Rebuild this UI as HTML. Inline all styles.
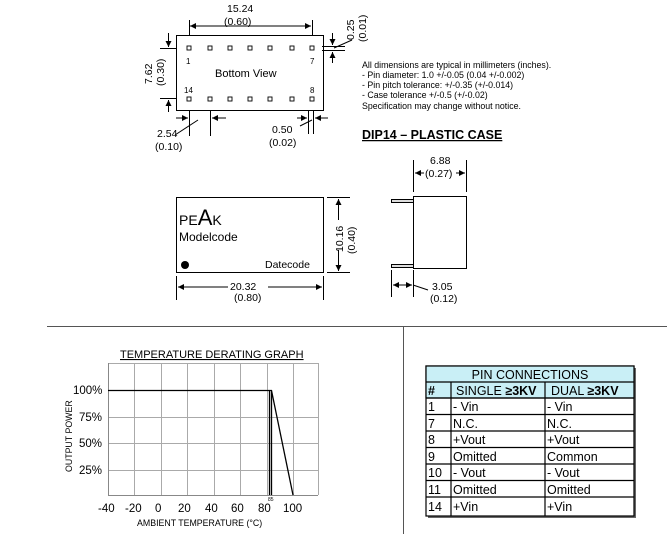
<!DOCTYPE html><html><head><style>body{margin:0;background:#fff}svg{display:block}text{font-family:"Liberation Sans",Arial,sans-serif;fill:#000}</style></head><body>
<svg width="667" height="534" viewBox="0 0 667 534" xmlns="http://www.w3.org/2000/svg">
<defs><marker id="a" viewBox="0 0 10 10" refX="10" refY="5" markerWidth="9" markerHeight="6" orient="auto-start-reverse"><path d="M0,0L10,5L0,10z" fill="#000"/></marker></defs>
<g stroke="#000" stroke-width="1" fill="none">
<rect x="176.5" y="35.5" width="147" height="75"/>
<g fill="#fff" stroke-width="0.9">
<rect x="187" y="46" width="4" height="4"/><rect x="208" y="46" width="4" height="4"/><rect x="228" y="46" width="4" height="4"/><rect x="248" y="46" width="4" height="4"/><rect x="268" y="46" width="4" height="4"/><rect x="290" y="46" width="4" height="4"/><rect x="310" y="46" width="4" height="4"/>
<rect x="187" y="97" width="4" height="4"/><rect x="208" y="97" width="4" height="4"/><rect x="228" y="97" width="4" height="4"/><rect x="248" y="97" width="4" height="4"/><rect x="268" y="97" width="4" height="4"/><rect x="290" y="97" width="4" height="4"/><rect x="310" y="97" width="4" height="4"/>
</g>
<path d="M189.5 20V35M312.5 20V35"/><path d="M190 26H311" marker-start="url(#a)" marker-end="url(#a)"/>
<path d="M160 48.5H176M160 98.5H176"/><path d="M168.5 33V47" marker-end="url(#a)"/><path d="M168.5 112V100" marker-end="url(#a)"/>
<path d="M322 46.5H345M322 50.5H345"/><path d="M332.5 33V45" marker-end="url(#a)"/><path d="M332.5 63V52" marker-end="url(#a)"/><path d="M334 48L352 40"/>
<path d="M189.5 110V136M210.5 110V136"/><path d="M176 118H188" marker-end="url(#a)"/><path d="M226 118H212" marker-end="url(#a)"/><path d="M175 135L198 120"/>
<path d="M308.5 110V134M313.5 110V134"/><path d="M297 118H307" marker-end="url(#a)"/><path d="M328 118H315" marker-end="url(#a)"/><path d="M300 126L312 120"/>
<rect x="176.5" y="197.5" width="147" height="75"/>
<path d="M327 197.5H350M327 272.5H350"/><path d="M338.5 220V199" marker-end="url(#a)"/><path d="M338.5 250V271" marker-end="url(#a)"/>
<path d="M176.5 276V300M323.5 276V300"/><path d="M228 287H178" marker-end="url(#a)"/><path d="M268 287H322" marker-end="url(#a)"/>
<rect x="413.5" y="196.5" width="53" height="72"/>
<rect x="391.5" y="199.5" width="22" height="3" fill="#ddd"/><rect x="391.5" y="264.5" width="22" height="3" fill="#ddd"/>
<path d="M413.5 160V192M466.5 160V192"/><path d="M424 173H415" marker-end="url(#a)"/><path d="M456 173H465" marker-end="url(#a)"/>
<path d="M391.5 270V297M413.5 270V297"/><path d="M405 285H393" marker-end="url(#a)"/><path d="M400 285H412" marker-end="url(#a)"/><path d="M413 285L428 290"/>
<path d="M47 326.5H667M403.5 326V534" stroke="#555"/>
<g stroke="#aaa"><path d="M134.5 363V495M161.5 363V495M187.5 363V495M214.5 363V495M240.5 363V495M267.5 363V495M293.5 363V495M318.5 363V495M108 363.5H318M108 417.5H318M108 443.5H318M108 470.5H318"/></g>
<path d="M108.5 363V495.5H318" stroke="#888"/>
<path d="M108 390.5H271.5L293 495M271.5 390V495M269.5 390V495" stroke-width="1.3"/>
</g>
<g font-size="10.5">
<text x="227" y="12">15.24</text><text x="224" y="25">(0.60)</text>
<text transform="translate(152,84) rotate(-90)">7.62</text><text transform="translate(164,86) rotate(-90)">(0.30)</text>
<text transform="translate(354,40) rotate(-90)">0.25</text><text transform="translate(366,42) rotate(-90)">(0.01)</text>
<text x="157" y="137">2.54</text><text x="155" y="150">(0.10)</text>
<text x="272" y="133">0.50</text><text x="269" y="146">(0.02)</text>
<text x="215" y="77" font-size="11">Bottom View</text>
</g>
<g font-size="8"><text x="186" y="64">1</text><text x="310" y="64">7</text><text x="184" y="93">14</text><text x="310" y="93">8</text></g>
<g font-size="8.8"><text x="362" y="68">All dimensions are typical in millimeters (inches).</text><text x="362" y="78">- Pin diameter: 1.0 +/-0.05 (0.04 +/-0.002)</text><text x="362" y="88">- Pin pitch tolerance: +/-0.35 (+/-0.014)</text><text x="362" y="98">- Case tolerance +/-0.5 (+/-0.02)</text><text x="362" y="109">Specification may change without notice.</text></g>
<text x="362" y="139" font-size="12.5" font-weight="bold" text-decoration="underline">DIP14 – PLASTIC CASE</text>
<text x="179" y="225" font-size="14">PE<tspan font-size="22">A</tspan>K</text>
<text x="179" y="241" font-size="12">Modelcode</text>
<circle cx="185" cy="265" r="4" fill="#000"/>
<text x="265" y="268" font-size="10.5">Datecode</text>
<rect x="333" y="221" width="10" height="28" fill="#fff"/>
<g font-size="10.5"><text transform="translate(343,252) rotate(-90)">10.16</text><text transform="translate(355,254) rotate(-90)">(0.40)</text>
<text x="230" y="290">20.32</text><text x="234" y="301">(0.80)</text>
<text x="430" y="164">6.88</text><text x="425" y="177">(0.27)</text>
<text x="432" y="290">3.05</text><text x="430" y="302">(0.12)</text></g>
<text x="120" y="358" font-size="11" text-decoration="underline">TEMPERATURE DERATING GRAPH</text>
<g font-size="11.5" fill="#333"><text x="73" y="394">100%</text><text x="79" y="421">75%</text><text x="79" y="447">50%</text><text x="79" y="474">25%</text>
<text x="98" y="512">-40</text><text x="125" y="512">-20</text><text x="155" y="512">0</text><text x="178" y="512">20</text><text x="205" y="512">40</text><text x="231" y="512">60</text><text x="258" y="512">80</text><text x="283" y="512">100</text></g>
<text x="268" y="501" font-size="5">85</text>
<text x="137" y="526" font-size="8.8">AMBIENT TEMPERATURE (°C)</text>
<text transform="translate(72,472) rotate(-90)" font-size="8.8">OUTPUT POWER</text>
<rect x="428" y="368" width="208" height="150" fill="#666"/>
<g stroke="#000" stroke-width="1.2">
<rect x="426" y="366" width="208" height="150" fill="#fff"/>
<rect x="426" y="366" width="208" height="32" fill="#c9eff6"/>
<path d="M426 382H634M426 398H634M426 414.5H634M426 431H634M426 447.5H634M426 464H634M426 480.5H634M426 497H634M451 382V516M545 382V516" fill="none"/>
</g>
<g font-size="12.5"><text x="530" y="379" text-anchor="middle">PIN CONNECTIONS</text>
<text x="428" y="395" font-weight="bold">#</text><text x="456" y="395">SINGLE <tspan font-weight="bold">≥3KV</tspan></text><text x="551" y="395">DUAL <tspan font-weight="bold">≥3KV</tspan></text>
<text x="428" y="411">1</text><text x="453" y="411">- Vin</text><text x="547" y="411">- Vin</text>
<text x="428" y="428">7</text><text x="453" y="428">N.C.</text><text x="547" y="428">N.C.</text>
<text x="428" y="444">8</text><text x="453" y="444">+Vout</text><text x="547" y="444">+Vout</text>
<text x="428" y="461">9</text><text x="453" y="461">Omitted</text><text x="547" y="461">Common</text>
<text x="428" y="477">10</text><text x="453" y="477">- Vout</text><text x="547" y="477">- Vout</text>
<text x="428" y="494">11</text><text x="453" y="494">Omitted</text><text x="547" y="494">Omitted</text>
<text x="428" y="511">14</text><text x="453" y="511">+Vin</text><text x="547" y="511">+Vin</text></g>
</svg></body></html>
